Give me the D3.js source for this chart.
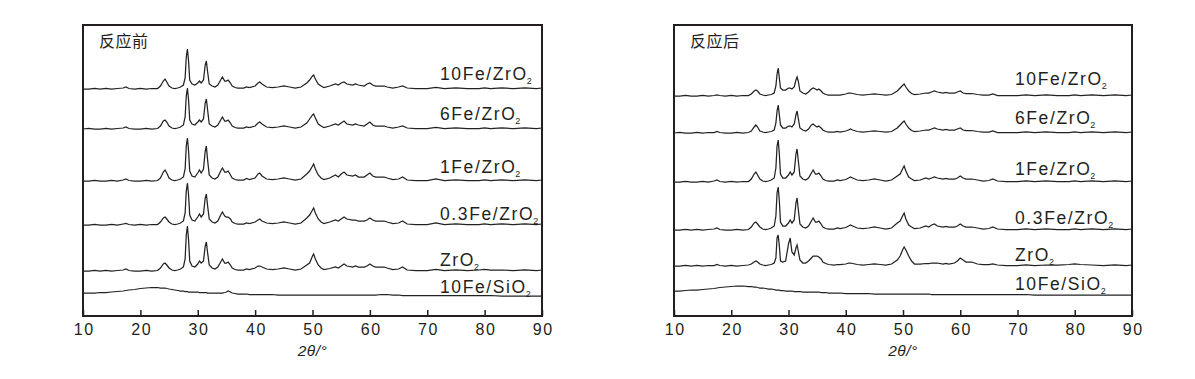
<!DOCTYPE html>
<html>
<head>
<meta charset="utf-8">
<script src="https://cdn.jsdelivr.net/npm/d3@7"></script>
<style>
    body { margin: 0; background: #fff; }
    text { font-family: "Liberation Sans", Arial, sans-serif; fill: #231f20; }
    .title { font-family: "Noto Sans CJK SC", sans-serif; font-size: 16px; letter-spacing: 0.5px; }
    .label { font-size: 17.5px; letter-spacing: 1.6px; }
    .xtitle { font-size: 15.5px; font-style: italic; letter-spacing: 0.5px; }
</style>
</head>
<body>
<svg id="chart" width="1195" height="379"></svg>
<script>
// 2theta grid (degrees) shared by every pattern
let theta = [10, 11, 12, 13, 14, 15, 16, 17, 17.5, 18,
    19, 20, 21, 22, 23, 23.5, 24, 24.3, 24.6, 25,
    25.5, 26, 26.5, 27, 27.5, 27.8, 28.0, 28.2, 28.4, 28.6,
    29, 29.5, 30, 30.3, 30.6, 31, 31.3, 31.5, 31.7, 32,
    32.5, 33, 33.5, 34, 34.3, 34.7, 35, 35.3, 35.7, 36,
    36.5, 37, 38, 38.5, 39, 40, 40.5, 40.8, 41.2, 42,
    43, 44, 45, 46, 47, 48, 49, 49.5, 50, 50.2,
    50.5, 51, 51.5, 52, 53, 54, 54.5, 55, 55.5, 56,
    57, 57.5, 58, 59, 59.5, 60, 60.5, 61, 62, 62.5,
    63, 64, 65, 65.7, 66.5, 68, 70, 71.5, 73, 75,
    77, 79, 80, 81, 83, 85, 87, 89, 90];

let labels = ['10Fe/ZrO', '6Fe/ZrO', '1Fe/ZrO', '0.3Fe/ZrO', 'ZrO', '10Fe/SiO'];
let xTicks = [10, 20, 30, 40, 50, 60, 70, 80, 90];

// 反应前 (before reaction), intensity a.u.
let before10Fe = [0, 0, 0.5, 0, 0.5, 0, 0.5, 1, 2, 0.5,
    0, 0.5, 0, 0.5, 0.5, 3, 8, 10, 7, 3,
    1, 0.5, 1, 2, 4, 11, 32, 40, 28, 9,
    5, 4, 6, 8, 6, 9, 24, 28, 18, 5,
    3, 2, 4, 9, 12, 8, 8, 9, 6, 3,
    1.5, 1, 1, 2, 1.5, 3, 6, 7, 5, 2,
    1.5, 2, 3, 2, 1, 2, 6, 9, 13, 14,
    10, 5, 3, 1.5, 3, 5, 4, 6, 7, 5,
    4, 5, 4, 3, 5, 6, 4, 3, 3, 3,
    2, 1, 2, 3, 1, 0.5, 0.5, 1.5, 0.5, 1,
    0.5, 0.5, 1, 0.5, 1, 0.5, 1, 0.5, 1];
let before6Fe = [0, 0.5, 0, 0, 0.5, 0, 0.5, 1, 2, 0.5,
    0, 0, 0.5, 0, 0.5, 3, 8, 9, 7, 3,
    1, 0.5, 1, 2, 4, 12, 33, 41, 29, 9,
    5, 4, 7, 9, 7, 10, 26, 30, 20, 5,
    3, 2, 4, 9, 12, 8, 8, 9, 6, 3,
    1.5, 1, 1, 2, 1.5, 3, 6, 7, 5, 2,
    1.5, 2, 3, 2, 1, 2, 6, 10, 14, 15,
    11, 5, 3, 1.5, 3, 5, 4, 6, 8, 5,
    4, 5, 4, 3, 5, 7, 4, 3, 3, 3,
    2, 1, 2, 3, 1, 0.5, 0.5, 1.5, 0.5, 1,
    0.5, 0.5, 1, 0.5, 1, 0.5, 1, 0.5, 1];
let before1Fe = [0, 0, 0.5, 0, 0, 0.5, 0, 1, 2, 0.5,
    0, 0, 0.5, 0, 0.5, 3, 9, 11, 8, 3,
    1, 0.5, 1, 2, 4, 12, 35, 43, 30, 10,
    5, 4, 8, 11, 8, 12, 30, 35, 22, 6,
    3, 2, 4, 10, 13, 9, 9, 10, 6, 3,
    1.5, 1, 1, 2.5, 1.5, 3, 7, 8, 5, 2,
    1.5, 2, 3, 2, 1, 2, 7, 10, 15, 17,
    12, 6, 3, 1.5, 3, 6, 4, 7, 9, 6,
    5, 6, 4, 4, 6, 8, 5, 4, 4, 4,
    3, 1.5, 2, 4, 1, 0.5, 0.5, 2, 0.5, 1,
    0.5, 0.5, 1, 0.5, 1, 0.5, 1, 0.5, 1];
let before03Fe = [0, 0, 0.5, 0, 0, 0.5, 0, 1, 1.5, 0.5,
    0, 0.5, 0, 0.5, 0.5, 3, 7, 8, 6, 3,
    1, 0.5, 1, 2, 4, 12, 34, 42, 30, 10,
    5, 4, 8, 11, 8, 11, 27, 31, 20, 6,
    3, 2, 4, 10, 13, 9, 8, 8, 6, 3,
    1.5, 1, 1, 2, 1.5, 3, 5, 6, 4, 2,
    1.5, 2, 3, 2, 1, 2, 7, 10, 15, 17,
    12, 6, 3, 1.5, 3, 5, 4, 6, 8, 6,
    5, 5, 4, 4, 5, 7, 5, 4, 4, 4,
    3, 1.5, 2, 4, 1, 0.5, 0.5, 2, 0.5, 1,
    0.5, 0.5, 1, 0.5, 1, 0.5, 1, 0.5, 1];
let beforeZrO2 = [0, 0, 0.5, 0, 0.5, 0, 0.5, 1, 2, 0.5,
    0, 0, 0.5, 0, 0.5, 3, 7, 8, 6, 3,
    1, 0.5, 1, 2, 4, 12, 36, 45, 31, 10,
    5, 4, 7, 10, 8, 10, 25, 29, 19, 6,
    3, 2, 4, 9, 12, 8, 8, 9, 6, 3,
    1.5, 1, 1, 2, 1.5, 3, 5, 5, 4, 2,
    1.5, 2, 3, 2, 1, 2, 6, 8, 15, 17,
    12, 6, 3, 1.5, 2.5, 4, 3, 5, 7, 5,
    4, 5, 4, 4, 5, 7, 5, 4, 4, 4,
    3, 1.5, 2, 4, 1, 0.5, 0.5, 1.5, 0.5, 1,
    0.5, 1, 1.5, 1, 1, 0.5, 1, 0.5, 1];
let beforeSiO2 = [3, 3, 3, 3.5, 3.5, 4, 4.5, 5, 5.5, 6,
    6.5, 7.5, 8, 8.5, 8.5, 8, 8, 8, 7.5, 7,
    6.5, 6, 5.5, 5, 5, 4.5, 4.5, 4.5, 4, 4,
    4, 4, 4, 3.5, 3.5, 3.5, 3.5, 3.5, 3, 3,
    3, 3, 3, 3, 3, 3.5, 4, 5, 4, 3,
    2.5, 2, 2, 2, 1.5, 1.5, 1.5, 1.5, 1.5, 1.5,
    1.5, 1, 1, 1, 1, 1, 1, 1, 1, 1,
    1, 1, 1, 1, 1, 1, 1, 1, 1, 1,
    1, 1, 1, 1, 1, 1, 1, 1, 1.5, 1.5,
    1.5, 1, 1, 0.5, 0.5, 0.5, 0.5, 0.5, 0.5, 0.5,
    0.5, 0.5, 0.5, 0.5, 0, 0, 0, 0, 0];
let beforeOffsets = [227, 187, 135, 91, 45, 20];

// 反应后 (after reaction)
let after10Fe = [0, 0, 0.5, 0, 0, 0.5, 0, 0.5, 1, 0.5,
    0, 0.5, 0, 0.5, 0.5, 2, 5, 6, 5, 2,
    1, 0.5, 1, 1.5, 3, 10, 22, 28, 18, 8,
    6, 6, 8, 8, 7, 9, 16, 19, 15, 5,
    3, 2, 4, 7, 8, 7, 6, 7, 5, 3,
    1.5, 1, 1, 1, 1, 2, 3, 3, 2.5, 1.5,
    1, 1.5, 2, 1.5, 1, 1.5, 5, 8, 11, 12,
    9, 5, 2.5, 1.5, 2, 3, 3, 4, 5, 4,
    3, 3.5, 3, 3, 4, 5, 3, 2.5, 2.5, 2,
    1.5, 1, 1, 2, 0.5, 0.5, 0.5, 1, 0.5, 1,
    0.5, 0.5, 1, 0.5, 1, 0.5, 1, 0.5, 1];
let after6Fe = [0, 0.5, 0, 0, 0.5, 0, 0.5, 0.5, 1.5, 0.5,
    0, 0, 0.5, 0, 0.5, 2, 6, 8, 6, 2,
    1, 0.5, 1, 1.5, 3, 10, 22, 28, 18, 8,
    5, 5, 7, 7, 6, 9, 18, 22, 15, 5,
    3, 2, 4, 8, 9, 7, 6, 7, 5, 3,
    1.5, 1, 1, 1.5, 1, 2, 3, 4, 3, 1.5,
    1, 1.5, 2, 1.5, 1, 1.5, 5, 8, 11, 12,
    9, 5, 2.5, 1.5, 2, 3, 3, 4, 5, 4,
    3, 3.5, 3, 3, 4, 5, 3, 2.5, 2.5, 2,
    1.5, 1, 1, 2, 0.5, 0.5, 0.5, 1, 0.5, 1,
    0.5, 0.5, 1, 0.5, 1, 0.5, 1, 0.5, 1];
let after1Fe = [0, 0, 0.5, 0, 0, 0.5, 0, 1, 2, 0.5,
    0, 0.5, 0, 0.5, 0.5, 3, 8, 10, 7, 3,
    1, 0.5, 1, 2, 4, 14, 36, 42, 28, 8,
    4, 4, 7, 10, 7, 10, 28, 33, 22, 6,
    3, 2, 4, 9, 12, 8, 8, 9, 6, 3,
    1.5, 1, 1, 2, 1.5, 2.5, 4, 5, 4, 2,
    1.5, 2, 3, 2, 1, 2, 6, 8, 14, 16,
    11, 5, 3, 1.5, 2, 4, 3, 4, 5, 4,
    3, 3.5, 3, 3, 4, 6, 4, 3, 3, 2.5,
    2, 1, 1.5, 3, 1, 0.5, 0.5, 1, 0.5, 1,
    0.5, 0.5, 1, 0.5, 1, 0.5, 1, 0.5, 1];
let after03Fe = [0, 0, 0.5, 0, 0.5, 0, 0.5, 1, 2, 0.5,
    0, 0, 0.5, 0, 0.5, 3, 7, 8, 6, 3,
    1, 0.5, 1, 2, 4, 14, 37, 43, 29, 8,
    4, 4, 7, 10, 7, 10, 27, 32, 21, 6,
    3, 2, 4, 9, 12, 8, 8, 9, 6, 3,
    1.5, 1, 1, 2, 1.5, 2.5, 4, 5, 4, 2,
    1.5, 2, 3, 2, 1, 2, 7, 9, 15, 17,
    11, 5, 3, 1.5, 2, 4, 3, 5, 6, 4,
    3, 3.5, 3, 3, 4, 6, 4, 3, 3, 2.5,
    2, 1, 1.5, 3, 1, 0.5, 0.5, 1, 0.5, 1,
    0.5, 0.5, 1, 0.5, 1, 0.5, 1, 0.5, 1];
let afterZrO2 = [0, 0, 0.5, 0, 0.5, 0, 0.5, 0.5, 1.5, 0.5,
    0, 0.5, 0, 0.5, 1, 2, 4, 5, 4, 2,
    1, 0.5, 1, 1.5, 3, 8, 28, 31, 20, 5,
    4, 5, 22, 28, 14, 11, 18, 21, 15, 6,
    3, 3, 5, 8, 10, 10, 10, 9, 7, 4,
    2.5, 1.5, 1, 1.5, 1.5, 2, 3, 3, 2.5, 1.5,
    1, 1.5, 2, 1.5, 1, 2, 6, 10, 17, 19,
    16, 10, 5, 2, 2, 2.5, 2.5, 3, 3, 3,
    2, 2.5, 2, 3, 5, 8, 6, 4, 4, 3,
    2, 1.5, 1.5, 2, 1, 0.5, 0.5, 1, 0.5, 1,
    1, 1.5, 2, 1.5, 1, 0.5, 1, 0.5, 1];
let afterSiO2 = [4, 4, 4.5, 5, 5, 5.5, 6, 6.5, 7, 7.5,
    8, 8.5, 9, 9, 8.5, 8.5, 8, 8, 7.5, 7,
    7, 6.5, 6, 6, 5.5, 5, 5, 5, 5, 4.5,
    4.5, 4, 4, 4, 4, 3.5, 3.5, 3.5, 3.5, 3.5,
    3, 3, 3, 3, 3, 3, 3, 3, 2.5, 2.5,
    2.5, 2, 2, 2, 2, 1.5, 1.5, 1.5, 1.5, 1.5,
    1.5, 1.5, 1, 1, 1, 1, 1, 1, 1, 1,
    1, 1, 1, 1, 1, 1, 1, 0.5, 0.5, 0.5,
    0.5, 0.5, 0.5, 0.5, 0.5, 0.5, 0.5, 0.5, 0.5, 0.5,
    0.5, 0.5, 0.5, 0.5, 0.5, 0.5, 0.5, 0.5, 0, 0,
    0, 0, 0, 0, 0, 0, 0, 0, 0];
let afterOffsets = [220, 183, 134, 86, 50, 21];

let panels = [
    {title: '反应前', series: [before10Fe, before6Fe, before1Fe, before03Fe, beforeZrO2, beforeSiO2],
        offsets: beforeOffsets, left: 83, right: 542, labelX: 440, labelY: [80, 120, 173, 220, 266, 293]},
    {title: '反应后', series: [after10Fe, after6Fe, after1Fe, after03Fe, afterZrO2, afterSiO2],
        offsets: afterOffsets, left: 674, right: 1132, labelX: 1015, labelY: [85, 124, 175, 224, 261, 290]}
];

let plotTop = 25, plotBottom = 316;
let svg = d3.select('#chart');

panels.forEach(function (p) {
    let x = d3.scaleLinear().domain([10, 90]).range([p.left, p.right]);
    let y = d3.scaleLinear().domain([0, plotBottom - plotTop]).range([plotBottom, plotTop]);

    let g = svg.append('g');

    let line = d3.line()
        .x(function (d) { return x(d[0]); })
        .y(function (d) { return y(d[1]); });

    g.append('g')
        .selectAll('path').data(p.series).enter().append('path')
        .attr('fill', 'none')
        .attr('stroke', '#222')
        .attr('stroke-width', 1.25)
        .attr('stroke-linejoin', 'miter')
        .attr('d', function (s, i) {
            return line(theta.map(function (t, j) { return [t, s[j] + p.offsets[i]]; }));
        });

    let xAxis = d3.axisBottom(x).tickValues(xTicks).tickSizeInner(-6).tickSizeOuter(0).tickPadding(8);
    let ax = g.append('g').attr('transform', 'translate(0,' + plotBottom + ')').call(xAxis);
    ax.select('.domain').remove();
    ax.selectAll('.tick line').attr('stroke', '#231f20').attr('stroke-width', 1.5);
    ax.selectAll('.tick text')
        .style('font-family', '"Liberation Sans", Arial, sans-serif')
        .style('font-size', '16px')
        .style('letter-spacing', '1.5px')
        .attr('fill', '#231f20')
        .attr('dx', '0.75px');

    g.append('rect')
        .attr('x', p.left).attr('y', plotTop)
        .attr('width', p.right - p.left).attr('height', plotBottom - plotTop)
        .attr('fill', 'none').attr('stroke', '#231f20').attr('stroke-width', 2);

    g.append('text').attr('class', 'title')
        .attr('x', p.left + 16).attr('y', 47)
        .text(p.title);

    let lab = g.selectAll('.label').data(labels).enter().append('text')
        .attr('class', 'label')
        .attr('x', p.labelX)
        .attr('y', function (d, i) { return p.labelY[i]; });
    lab.append('tspan').text(function (d) { return d; });
    lab.append('tspan').attr('font-size', '9px').attr('dy', 4).attr('dx', -1).text('2');

    g.append('text').attr('class', 'xtitle')
        .attr('x', (p.left + p.right) / 2).attr('y', 356)
        .attr('text-anchor', 'middle')
        .text('2θ/°');
});
</script>
</body>
</html>
